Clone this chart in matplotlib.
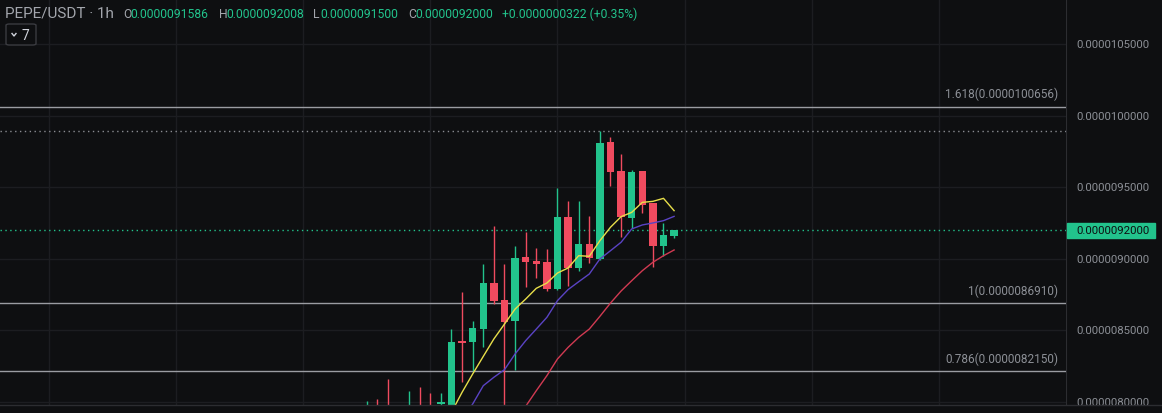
import matplotlib.pyplot as plt
from matplotlib.patches import FancyBboxPatch, Rectangle
import numpy as np

# hourly candles, prices in units of 1e-6 USDT
opens = [7.95, 7.96, 7.96, 7.95, 7.93, 7.96, 7.97, 7.985, 7.96, 8.430,
         8.422, 8.510, 8.832, 8.713, 8.569, 9.016, 8.988, 8.977, 8.790, 9.296,
         8.937, 9.105, 9.000, 9.820, 9.618, 9.289, 9.618, 9.392, 9.093, 9.1586]
highs = [8.005, 8.021, 8.161, 7.965, 8.079, 8.107, 8.061, 8.063, 8.510, 8.767,
         8.569, 8.965, 9.233, 8.965, 9.093, 9.191, 9.075, 9.070, 9.497, 9.408,
         9.403, 9.298, 9.893, 9.851, 9.734, 9.622, 9.618, 9.392, 9.252, 9.2008]
lows = [7.93, 7.92, 7.90, 7.92, 7.91, 7.90, 7.93, 7.96, 7.94, 8.138,
        8.219, 8.387, 8.685, 7.94, 8.226, 8.802, 8.865, 8.779, 8.785, 8.813,
        8.918, 8.972, 8.995, 9.513, 9.156, 9.215, 9.322, 8.946, 9.019, 9.1500]
closes = [7.975, 7.94, 7.93, 7.94, 7.96, 7.93, 7.95, 8.002, 8.422, 8.410,
          8.517, 8.832, 8.709, 8.562, 9.005, 8.981, 8.965, 8.790, 9.296, 8.935,
          9.105, 9.005, 9.811, 9.606, 9.291, 9.611, 9.378, 9.093, 9.1678, 9.2000]

# moving averages (visible part), first index where each is drawn
ma_fast_start = 8
ma_fast = [7.928, 8.068, 8.196, 8.319, 8.441, 8.545, 8.650, 8.720, 8.795, 8.832,
           8.902, 8.937, 9.023, 9.019, 9.128, 9.222, 9.296, 9.326, 9.396, 9.403,
           9.424, 9.338]
ma_mid_start = 9
ma_mid = [7.881, 7.986, 8.114, 8.173, 8.226, 8.336, 8.429, 8.510, 8.592, 8.709,
          8.786, 8.841, 8.895, 9.000, 9.058, 9.117, 9.210, 9.238, 9.252, 9.268,
          9.298]
ma_slow_start = 14
ma_slow = [7.862, 7.970, 8.079, 8.184, 8.301, 8.382, 8.452, 8.510, 8.599, 8.692,
           8.776, 8.848, 8.918, 8.977, 9.023, 9.063]

fib_levels = [1.618, 1, 0.786]
fib_prices = [10.0656, 8.6910, 8.2150]
price_ticks = [8.0, 8.5, 9.0, 9.5, 10.0, 10.5]

bg = '#0e0f11'
up = '#22c38c'
down = '#f04b5f'
gridc = '#1c1d21'
txt = '#8c8f96'

W, H = 1162, 414
fig = plt.figure(figsize=(W / 100, H / 100), dpi=100, facecolor=bg)
plt.rcParams['font.family'] = ['Roboto', 'DejaVu Sans']

ax = fig.add_axes([0, 8 / H, 1066 / W, 406 / H])
ax.set_facecolor(bg)
ylo, yhi = 7.979, 10.818
ax.set_ylim(ylo, yhi)
ax.set_xlim(-34.59, 65.97)
for s in ax.spines.values():
    s.set_visible(False)
ax.set_xticks([])
ax.set_yticks([])

# grid
for gx in range(-30, 66, 12):
    ax.axvline(gx, color=gridc, lw=1, zorder=0)
for p in price_ticks:
    ax.axhline(p, color=gridc, lw=1, zorder=0)

# fib levels
for lev, p in zip(fib_levels, fib_prices):
    ax.axhline(p, color='#9a9ca2', lw=1, zorder=1)
    ax.text(65.25, p + 0.045, '{}({:.10f})'.format(lev, p * 1e-6), color=txt,
            fontsize=8.5, ha='right', va='bottom')

# highest high and last price lines
ax.axhline(max(highs), color='#8a8c92', lw=1, ls=(0, (1, 2.5)), zorder=1)
ax.axhline(closes[-1], color=up, lw=1, ls=(0, (1, 2.5)), zorder=1)

# candles
x = np.arange(len(opens))
o = np.array(opens)
c = np.array(closes)
cols = [up if cc >= oo else down for oo, cc in zip(o, c)]
ax.vlines(x, lows, highs, colors=cols, lw=1, zorder=3)
body_lo = np.minimum(o, c)
body_h = np.maximum(np.abs(c - o), 0.012)
ax.bar(x, body_h, bottom=body_lo, width=0.7, color=cols, zorder=4)

# moving averages
ax.plot(np.arange(ma_slow_start, ma_slow_start + len(ma_slow)), ma_slow,
        color='#d13a52', lw=1, zorder=5)
ax.plot(np.arange(ma_mid_start, ma_mid_start + len(ma_mid)), ma_mid,
        color='#5a43c4', lw=1, zorder=5)
ax.plot(np.arange(ma_fast_start, ma_fast_start + len(ma_fast)), ma_fast,
        color='#e8df4a', lw=1, zorder=5)

# price scale
ax2 = fig.add_axes([1066 / W, 8 / H, 96 / W, 406 / H])
ax2.set_facecolor(bg)
ax2.set_ylim(ylo, yhi)
ax2.set_xlim(0, 96)
ax2.set_xticks([])
ax2.set_yticks([])
for s in ax2.spines.values():
    s.set_visible(False)
ax2.axvline(0, color='#2c2d31', lw=1.5)
for p in price_ticks:
    ax2.text(10, p, '{:.10f}'.format(p * 1e-6), color=txt, fontsize=8.2,
             va='center', ha='left', clip_on=True)
ax2.add_patch(Rectangle((1, closes[-1] - 0.055), 88, 0.11, color=up, zorder=3))
ax2.text(10, closes[-1], '{:.10f}'.format(closes[-1] * 1e-6), color='#0e0f11',
         fontsize=8.2, va='center', ha='left', zorder=4)

# bottom border
fig.add_artist(plt.Line2D([0, 1], [8 / H, 8 / H], color='#2c2d31', lw=1))

# header
def fx(px):
    return px / W

def fy(py):
    return 1 - py / H

fig.text(fx(5), fy(14), 'PEPE/USDT · 1h', color='#a3a6ad', fontsize=11, va='center')
hdr = [('O', 123), ('H', 219), ('L', 313), ('C', 408)]
vals = [opens[-1], highs[-1], lows[-1], closes[-1]]
for (lab, px), v in zip(hdr, vals):
    fig.text(fx(px), fy(14), lab, color='#a3a6ad', fontsize=8.7, va='center')
    fig.text(fx(px + 7), fy(14), '{:.10f}'.format(v * 1e-6), color=up,
             fontsize=8.7, va='center')
chg = closes[-1] - closes[-2]
fig.text(fx(502), fy(14), '+{:.10f} (+{:.2f}%)'.format(chg * 1e-6, chg / closes[-2] * 100),
         color=up, fontsize=8.7, va='center')

# collapsed indicators box
box = FancyBboxPatch((fx(6), fy(46)), fx(30), 21 / H, boxstyle='round,pad=0,rounding_size=0.003',
                     transform=fig.transFigure, facecolor=bg, edgecolor='#3a3b40', lw=1)
fig.add_artist(box)
fig.add_artist(plt.Line2D([fx(12), fx(14), fx(16)], [fy(34.5), fy(37), fy(34.5)],
                          color='#d1d4dc', lw=1))
fig.text(fx(22), fy(35.5), '7', color='#d1d4dc', fontsize=10, va='center')

plt.savefig('out.png', dpi=100, facecolor=bg)
